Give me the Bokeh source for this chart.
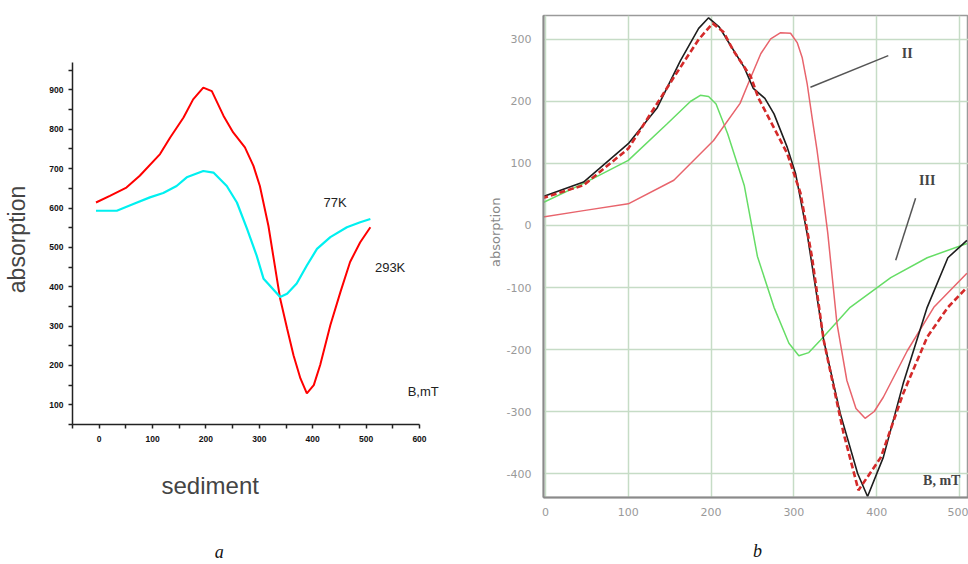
from bokeh.plotting import figure
from bokeh.layouts import row
from bokeh.models import FixedTicker, Label, LinearAxis
from bokeh.embed import file_html
from bokeh.resources import INLINE

# ---------------- panel a data ----------------
a_red_x = [-6, 20, 51, 76, 114, 133, 158, 176, 195, 211, 233, 251, 273, 289, 301, 317, 333,
           339, 352, 364, 377, 389, 402, 414, 433, 452, 470, 489, 508]
a_red_y = [614, 631, 652, 682, 737, 779, 830, 876, 906, 897, 834, 792, 754, 707, 656, 555, 420,
           370, 294, 226, 167, 129, 150, 201, 302, 387, 463, 513, 551]
a_cyan_x = [-6, 33, 64, 95, 120, 145, 164, 195, 214, 239, 258, 277, 295, 308,
            339, 352, 370, 389, 408, 433, 464, 489, 508]
a_cyan_y = [593, 593, 610, 627, 638, 656, 678, 694, 690, 656, 614, 547, 479, 420,
            374, 382, 408, 454, 496, 526, 551, 564, 572]
a_xticks = [0, 100, 200, 300, 400, 500, 600]
a_xminor = [-50, 50, 150, 250, 350, 450, 550]
a_yticks = [100, 200, 300, 400, 500, 600, 700, 800, 900]
a_yminor = [50, 150, 250, 350, 450, 550, 650, 750, 850, 950]
a_xtitle = ("sediment", 208)     # text, data-x of its centre
a_caption = ("a", 225)

# ---------------- panel b data ----------------
b_black_x = [-4, 46, 100, 135, 163, 185, 197, 210, 220, 240, 251, 265, 276, 292, 302, 316, 336,
             356, 377, 389, 408, 432, 461, 486, 509]
b_black_y = [46, 70, 132, 190, 266, 318, 335, 320, 298, 255, 221, 205, 180, 126, 84, -13, -185,
             -303, -400, -437, -374, -255, -132, -52, -24]
b_dash_x = [-4, 46, 100, 155, 185, 202, 215, 227, 248, 257, 275, 292, 308, 322, 336, 360, 378,
            405, 432, 461, 486, 509]
b_dash_y = [44, 65, 124, 239, 300, 326, 312, 282, 240, 206, 160, 116, 52, -52, -185, -335, -427,
            -374, -271, -180, -132, -100]
b_red2_x = [-6, 46, 100, 155, 203, 235, 248, 260, 272, 284, 296, 304, 310, 316, 322, 328, 334,
            341, 352, 364, 375, 386, 397, 408, 437, 469, 509]
b_red2_y = [13, 24, 35, 73, 137, 197, 239, 277, 301, 311, 310, 295, 271, 229, 174, 121, 61,
            -13, -158, -250, -295, -311, -300, -277, -202, -132, -77]
b_green_x = [-6, 46, 100, 147, 175, 187, 197, 206, 220, 240, 256, 276, 294, 306, 318, 332, 368,
             417, 461, 509]
b_green_y = [35, 68, 105, 164, 200, 210, 208, 196, 148, 65, -50, -132, -190, -210, -205, -185,
             -132, -84, -52, -29]
b_xticks = [0, 100, 200, 300, 400, 500]
b_yticks = [-400, -300, -200, -100, 0, 100, 200, 300]
b_ptr_II = ([320, 414], [223, 274])
b_ptr_III = ([447, 423], [44, -56])
b_ytitle = ("absorption", -11)   # text, data-y of its centre
b_caption = ("b", 256)


def text_axis(ticker_pos, text, font, size, style, color, standoff):
    ax = LinearAxis(ticker=FixedTicker(ticks=[ticker_pos]),
                    major_label_overrides={ticker_pos: text})
    ax.axis_line_color = None
    ax.major_tick_line_color = None
    ax.minor_tick_line_color = None
    ax.major_tick_out = 0
    ax.major_tick_in = 0
    ax.major_label_standoff = standoff
    ax.major_label_text_font = font
    ax.major_label_text_font_size = size
    ax.major_label_text_font_style = style
    ax.major_label_text_color = color
    return ax


# ---------------- panel a ----------------
p1 = figure(width=483, height=564, x_range=(-50, 660), y_range=(50, 990),
            output_backend="svg", toolbar_location=None,
            min_border_left=72, min_border_right=32, min_border_top=54, min_border_bottom=139)
p1.outline_line_color = None
p1.grid.visible = False
p1.background_fill_color = "white"
p1.border_fill_color = "white"

p1.line(a_red_x, a_red_y, line_color="#ff0000", line_width=2)
p1.line(a_cyan_x, a_cyan_y, line_color="#00f0f0", line_width=2.2)

for ax in (p1.xaxis[0], p1.yaxis[0]):
    ax.axis_line_color = "#222222"
    ax.axis_line_width = 1.5
    ax.major_tick_line_color = "#222222"
    ax.minor_tick_line_color = "#222222"
    ax.major_tick_line_width = 1.5
    ax.minor_tick_line_width = 1.5
    ax.major_tick_in = 0
    ax.major_tick_out = 4
    ax.minor_tick_in = 0
    ax.minor_tick_out = 4
    ax.major_label_text_font = "Liberation Sans"
    ax.major_label_text_font_size = "8.5px"
    ax.major_label_text_font_style = "bold"
    ax.major_label_text_color = "#111111"

p1.xaxis[0].ticker = FixedTicker(ticks=a_xticks, minor_ticks=a_xminor)
p1.xaxis[0].bounds = (-50, 600)
p1.xaxis[0].major_label_standoff = 7
p1.yaxis[0].ticker = FixedTicker(ticks=a_yticks, minor_ticks=a_yminor)
p1.yaxis[0].bounds = (50, 970)
p1.yaxis[0].major_label_standoff = 5
p1.yaxis[0].axis_label = "absorption"
p1.yaxis[0].axis_label_text_font = "Liberation Sans"
p1.yaxis[0].axis_label_text_font_size = "23px"
p1.yaxis[0].axis_label_text_font_style = "normal"
p1.yaxis[0].axis_label_text_color = "#444444"
p1.yaxis[0].axis_label_standoff = 16

lab_font = dict(text_font="Liberation Sans", text_font_size="13px", text_color="#222222",
                text_align="center", text_baseline="middle")
p1.add_layout(Label(x=442, y=615, text="77K", **lab_font))
p1.add_layout(Label(x=545, y=450, text="293K", **lab_font))
p1.add_layout(Label(x=607, y=135, text="B,mT", **lab_font))

p1.add_layout(text_axis(a_xtitle[1], a_xtitle[0], "Liberation Sans", "24px", "normal",
                        "#444444", 27), "below")
p1.add_layout(text_axis(a_caption[1], a_caption[0], "Liberation Serif", "18px", "italic",
                        "#111111", 40), "below")

# ---------------- panel b ----------------
p2 = figure(width=485, height=564, x_range=(-2.4, 510.9), y_range=(-438.7, 338.7),
            output_backend="svg", toolbar_location=None,
            min_border_left=60, min_border_right=0, min_border_top=15, min_border_bottom=67)
p2.outline_line_color = "#9a9a9a"
p2.outline_line_width = 1.5
p2.background_fill_color = "white"
p2.border_fill_color = "white"

for g in (p2.xgrid[0], p2.ygrid[0]):
    g.grid_line_color = "#c6dcc6"
    g.grid_line_width = 1.5
p2.xgrid[0].ticker = FixedTicker(ticks=b_xticks)
p2.ygrid[0].ticker = FixedTicker(ticks=b_yticks)

p2.line(b_green_x, b_green_y, line_color="#66dd66", line_width=1.5)
p2.line(b_red2_x, b_red2_y, line_color="#e8646c", line_width=1.5)
p2.line(b_black_x, b_black_y, line_color="#1e1e1e", line_width=1.6)
p2.line(b_dash_x, b_dash_y, line_color="#d42a2a", line_width=2.6, line_dash="6 3")
p2.line(b_ptr_II[0], b_ptr_II[1], line_color="#555555", line_width=1.5)
p2.line(b_ptr_III[0], b_ptr_III[1], line_color="#555555", line_width=1.5)

for ax in (p2.xaxis[0], p2.yaxis[0]):
    ax.axis_line_color = "#8a8a8a"
    ax.axis_line_width = 2
    ax.major_tick_line_color = None
    ax.minor_tick_line_color = None
    ax.major_label_text_font = "DejaVu Sans"
    ax.major_label_text_font_size = "11px"
    ax.major_label_text_color = "#999999"
p2.xaxis[0].ticker = FixedTicker(ticks=b_xticks)
p2.yaxis[0].ticker = FixedTicker(ticks=b_yticks)
p2.yaxis[0].major_label_overrides = {v: str(v) for v in b_yticks}
p2.xaxis[0].major_label_standoff = 4
p2.yaxis[0].major_label_standoff = 6

ytitle_ax = text_axis(b_ytitle[1], b_ytitle[0], "DejaVu Sans", "13px", "normal", "#888888", 0)
ytitle_ax.major_label_orientation = "parallel"
p2.add_layout(ytitle_ax, "left")
p2.add_layout(text_axis(b_caption[1], b_caption[0], "Liberation Serif", "18px", "italic",
                        "#111111", 22), "below")

ser = dict(text_font="Liberation Serif", text_font_style="bold", text_font_size="14px",
           text_color="#444444", text_baseline="middle")
p2.add_layout(Label(x=437, y=277, text="II", text_align="center", **ser))
p2.add_layout(Label(x=461, y=73, text="III", text_align="center", **ser))
p2.add_layout(Label(x=456, y=-412, text="B, mT", text_align="left", **ser))

for p in (p1, p2):
    if hasattr(p, "frame_align"):
        p.frame_align = False

layout = row(p1, p2)
open("out.html", "w").write(file_html(layout, INLINE))
